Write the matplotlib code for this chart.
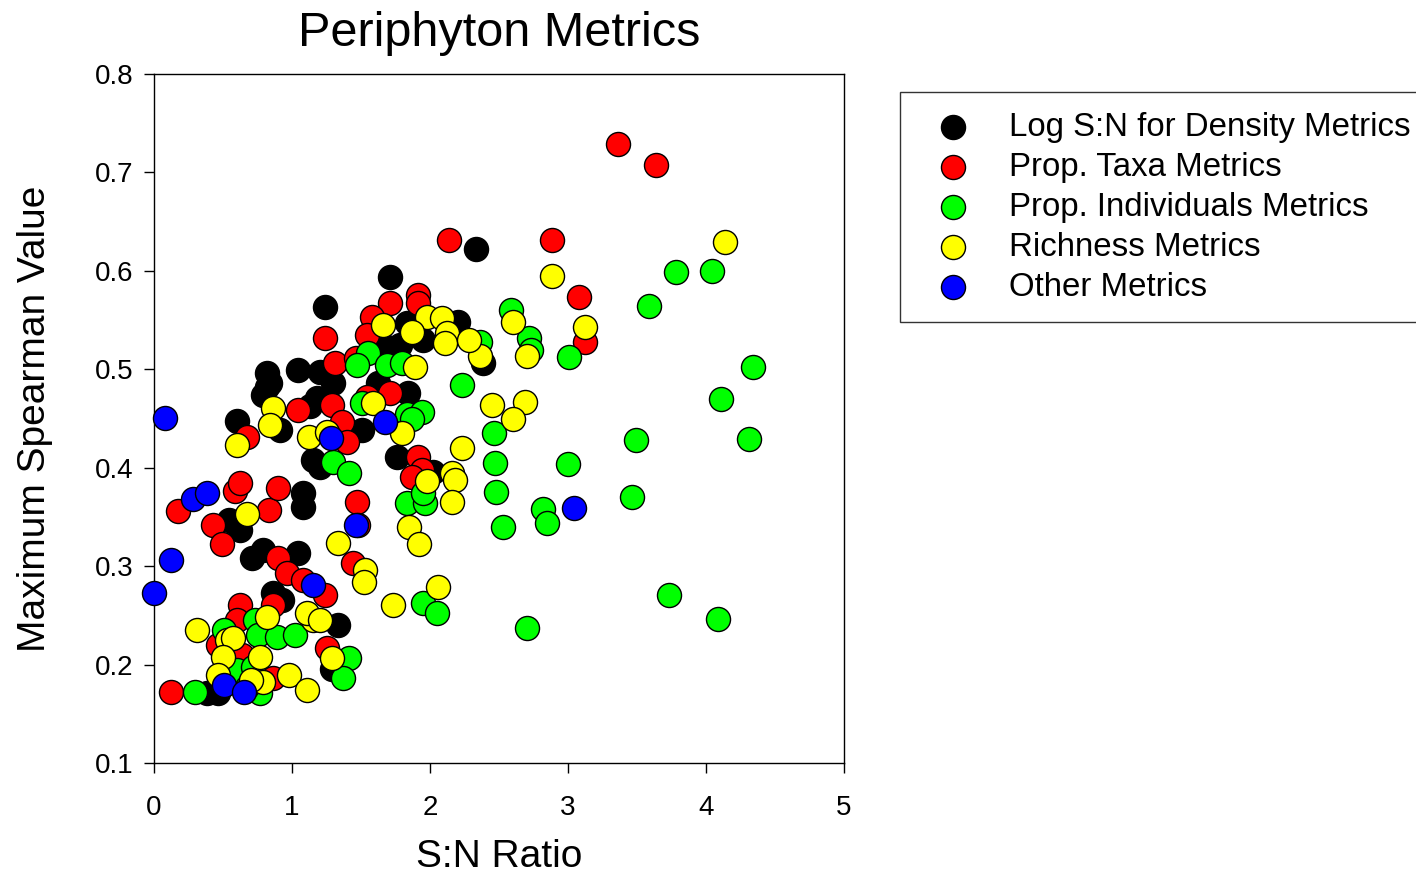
import matplotlib
matplotlib.use('Agg')
import matplotlib.pyplot as plt

plt.rcParams['font.family'] = ['Liberation Sans', 'DejaVu Sans']

# S:N ratio (x) and max Spearman value (y) per metric group
density_x = [0.60, 0.91, 1.08, 1.08, 0.54, 0.62, 0.71, 0.79, 1.04, 0.82, 1.18, 1.15, 1.20,
             1.71, 1.24, 0.82, 1.04, 0.84, 0.79, 1.20, 1.30, 1.51, 1.84, 1.69, 1.78, 1.86,
             1.95, 1.62, 2.33, 2.20, 2.38, 1.83, 1.76, 2.02, 1.33, 0.86, 0.93, 0.38, 0.46,
             1.29, 1.13]
density_y = [0.447, 0.438, 0.374, 0.360, 0.347, 0.337, 0.308, 0.316, 0.313, 0.482, 0.471, 0.408, 0.401,
             0.594, 0.563, 0.496, 0.499, 0.486, 0.474, 0.497, 0.486, 0.438, 0.476, 0.523, 0.525, 0.543,
             0.530, 0.486, 0.622, 0.548, 0.506, 0.547, 0.411, 0.396, 0.240, 0.273, 0.266, 0.171, 0.171,
             0.196, 0.463]

taxa_x = [3.36, 3.64, 2.14, 2.88, 3.08, 3.12, 0.12, 0.17, 0.43, 0.49, 0.59, 0.62, 0.67, 0.83,
          0.90, 1.04, 1.29, 0.90, 0.96, 0.62, 0.86, 1.24, 1.08, 0.60, 0.46, 0.64, 0.86, 1.25,
          1.44, 1.71, 1.91, 1.91, 1.58, 1.54, 1.24, 1.31, 1.46, 1.71, 1.54, 1.36, 1.40, 1.91,
          1.94, 1.87, 1.47, 1.48]
taxa_y = [0.729, 0.708, 0.631, 0.631, 0.573, 0.528, 0.172, 0.356, 0.342, 0.323, 0.376, 0.384, 0.431, 0.357,
          0.379, 0.459, 0.464, 0.308, 0.293, 0.261, 0.261, 0.271, 0.286, 0.245, 0.220, 0.210, 0.186, 0.217,
          0.303, 0.567, 0.575, 0.567, 0.553, 0.535, 0.532, 0.506, 0.511, 0.476, 0.472, 0.446, 0.426, 0.411,
          0.398, 0.391, 0.365, 0.342]

indiv_x = [3.78, 4.04, 3.59, 4.34, 4.11, 2.59, 2.72, 2.73, 3.01, 2.36, 3.49, 4.31, 3.00, 3.46,
           2.82, 2.85, 3.73, 4.09, 2.70, 2.53, 2.47, 2.48, 2.46, 1.83, 1.96, 1.95, 1.95, 2.05,
           2.23, 1.83, 1.55, 1.47, 1.69, 1.80, 1.51, 1.94, 1.87, 1.30, 1.41, 0.30, 0.51, 0.73,
           0.75, 0.89, 1.02, 0.60, 0.72, 0.77, 1.41, 1.37, 0.67]
indiv_y = [0.599, 0.600, 0.564, 0.502, 0.470, 0.560, 0.532, 0.520, 0.512, 0.528, 0.428, 0.429, 0.404, 0.370,
           0.358, 0.344, 0.271, 0.246, 0.237, 0.340, 0.405, 0.375, 0.435, 0.364, 0.364, 0.374, 0.263, 0.252,
           0.484, 0.455, 0.517, 0.504, 0.504, 0.506, 0.466, 0.457, 0.450, 0.406, 0.395, 0.172, 0.235, 0.245,
           0.230, 0.228, 0.230, 0.194, 0.198, 0.171, 0.207, 0.186, 0.177]

rich_x = [4.14, 2.88, 3.12, 2.60, 2.70, 2.36, 2.45, 2.69, 2.60, 1.98, 2.09, 2.12, 2.11, 2.28,
          2.23, 1.66, 1.87, 1.89, 1.59, 0.86, 0.84, 0.60, 1.12, 1.25, 1.80, 0.67, 1.33, 2.16,
          2.18, 1.98, 2.16, 1.85, 1.92, 1.53, 1.52, 1.73, 2.06, 1.15, 0.31, 0.53, 0.57, 0.50,
          0.82, 1.11, 1.20, 1.29, 0.77, 0.46, 0.79, 0.70, 0.98, 1.11]
rich_y = [0.629, 0.595, 0.543, 0.548, 0.514, 0.513, 0.464, 0.467, 0.450, 0.553, 0.552, 0.537, 0.527, 0.530,
          0.420, 0.545, 0.538, 0.502, 0.466, 0.461, 0.443, 0.423, 0.431, 0.436, 0.435, 0.353, 0.324, 0.395,
          0.388, 0.387, 0.365, 0.340, 0.322, 0.296, 0.284, 0.261, 0.279, 0.245, 0.235, 0.225, 0.227, 0.208,
          0.248, 0.252, 0.245, 0.207, 0.208, 0.189, 0.182, 0.184, 0.189, 0.174]

other_x = [0.00, 0.12, 0.08, 0.28, 0.38, 0.51, 0.65, 1.15, 1.28, 1.46, 1.67, 3.04]
other_y = [0.273, 0.306, 0.451, 0.368, 0.374, 0.179, 0.172, 0.281, 0.430, 0.342, 0.446, 0.359]

groups = [
    (density_x, density_y, 'black', 'Log S:N for Density Metrics'),
    (taxa_x, taxa_y, '#ff0000', 'Prop. Taxa Metrics'),
    (indiv_x, indiv_y, '#00ff00', 'Prop. Individuals Metrics'),
    (rich_x, rich_y, '#ffff00', 'Richness Metrics'),
    (other_x, other_y, '#0000ff', 'Other Metrics'),
]

fig = plt.figure(figsize=(14.16, 8.77), dpi=100)
ax = fig.add_axes([0.1088, 0.130, 0.4873, 0.7856])

for x, y, c, lab in groups:
    ax.scatter(x, y, s=300, c=c, edgecolors='black', linewidths=1.0, label=lab, clip_on=False, zorder=3)

ax.set_xlim(0, 5)
ax.set_ylim(0.1, 0.8)
ax.set_xticks([0, 1, 2, 3, 4, 5])
ax.set_yticks([0.1, 0.2, 0.3, 0.4, 0.5, 0.6, 0.7, 0.8])
ax.tick_params(direction='out', length=7, width=1, labelsize=20)
ax.tick_params(axis='x', pad=16)
ax.tick_params(axis='y', pad=8)
for sp in ax.spines.values():
    sp.set_linewidth(1)

ax.set_xlabel('S:N Ratio', fontsize=28, labelpad=13)
ax.set_ylabel('Maximum Spearman Value', fontsize=28, labelpad=30)
ax.set_title('Periphyton Metrics', fontsize=35, pad=20)

leg = fig.legend(loc='upper left', bbox_to_anchor=(900 / 1416, 1 - 92 / 877), fontsize=23.8,
                 frameon=True, fancybox=False, edgecolor='black', borderpad=0.6,
                 labelspacing=0.27, handletextpad=0.72, borderaxespad=0, handlelength=1.98,
                 scatterpoints=1)
leg.get_frame().set_linewidth(1)

fig.savefig('out.png', dpi=100)
